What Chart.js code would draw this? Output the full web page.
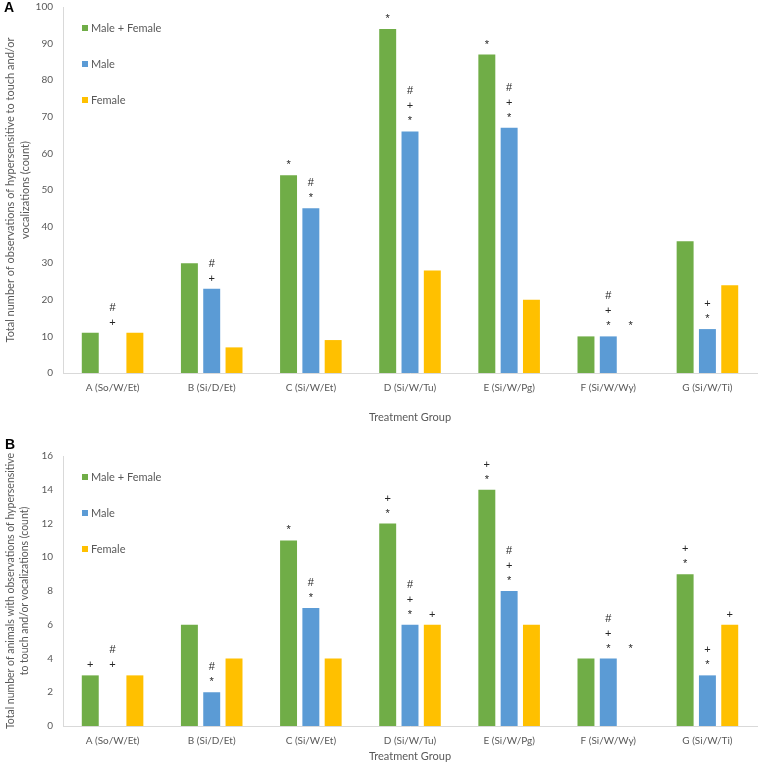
<!DOCTYPE html>
<html lang="en">
<head>
<meta charset="UTF-8">
<title>Hypersensitivity observations by treatment group</title>
<style>
  body { margin: 0; background: #fff; }
  #wrap { position: relative; width: 763px; height: 766px; }
  canvas { position: absolute; left: 0; }
  .tag { position: absolute; font: bold 14px "Liberation Sans", Arial, sans-serif; color: #000; }
</style>
</head>
<body>
<div id="wrap">
  <canvas id="chartA" style="top:0" width="763" height="427"></canvas>
  <canvas id="chartB" style="top:435px" width="763" height="331"></canvas>
  <div class="tag" style="left:4px;top:-1px">A</div>
  <div class="tag" style="left:5px;top:436px">B</div>
</div>
<script src="https://cdn.jsdelivr.net/npm/chart.js"></script>
<script>
// groups and series
const groups = ['A (So/W/Et)', 'B (Si/D/Et)', 'C (Si/W/Et)', 'D (Si/W/Tu)', 'E (Si/W/Pg)', 'F (Si/W/Wy)', 'G (Si/W/Ti)'];
const seriesNames = ['Male + Female', 'Male', 'Female'];
const seriesColors = ['#70AD47', '#5B9BD5', '#FFC000'];

// panel A: number of observations
const obsBoth   = [11, 30, 54, 94, 87, 10, 36];
const obsMale   = [0, 23, 45, 66, 67, 10, 12];
const obsFemale = [11, 7, 9, 28, 20, 0, 24];
const ticksA = [0, 10, 20, 30, 40, 50, 60, 70, 80, 90, 100];

// panel B: number of animals
const animBoth   = [3, 6, 11, 12, 14, 4, 9];
const animMale   = [0, 2, 7, 6, 8, 4, 3];
const animFemale = [3, 4, 4, 6, 6, 0, 6];
const ticksB = [0, 2, 4, 6, 8, 10, 12, 14, 16];

// significance marks: [group, series, symbols from bottom to top]
const marksA = [
  [0, 1, '+#'], [1, 1, '+#'],
  [2, 0, '*'], [2, 1, '*#'],
  [3, 0, '*'], [3, 1, '*+#'],
  [4, 0, '*'], [4, 1, '*+#'],
  [5, 1, '*+#'], [5, 2, '*'],
  [6, 1, '*+']
];
const marksB = [
  [0, 0, '+'], [0, 1, '+#'],
  [1, 1, '*#'],
  [2, 0, '*'], [2, 1, '*#'],
  [3, 0, '*+'], [3, 1, '*+#'], [3, 2, '+'],
  [4, 0, '*+'], [4, 1, '*+#'],
  [5, 1, '*+#'], [5, 2, '*'],
  [6, 0, '*+'], [6, 1, '*+'], [6, 2, '+']
];

const gray = '#595959';
const fontName = 'Lato, "Open Sans", sans-serif';

// legend inside the plot, top left
const insideLegend = {
  id: 'insideLegend',
  afterDraw(chart) {
    const ctx = chart.ctx, area = chart.chartArea;
    ctx.save();
    ctx.font = '11px ' + fontName;
    ctx.textBaseline = 'middle';
    chart.data.datasets.forEach((ds, i) => {
      const y = area.top + 21 + i * 36;
      ctx.fillStyle = ds.backgroundColor;
      ctx.fillRect(area.left + 19, y - 3, 6, 6);
      ctx.fillStyle = gray;
      ctx.fillText(ds.label, area.left + 28, y);
    });
    ctx.restore();
  }
};

// stacked significance symbols above bars
const sigMarks = {
  id: 'sigMarks',
  afterDatasetsDraw(chart, args, opts) {
    const ctx = chart.ctx;
    ctx.save();
    ctx.font = '11px "Liberation Sans", Arial, sans-serif';
    ctx.fillStyle = '#262626';
    ctx.textAlign = 'center';
    ctx.textBaseline = 'middle';
    opts.marks.forEach(([g, s, sym]) => {
      const bar = chart.getDatasetMeta(s).data[g];
      let top = bar.y;
      if (chart.data.datasets[s].data[g] === 0) {
        // empty bar: start above the tallest neighbour
        top = Math.min(...chart.data.datasets.map((d, k) => chart.getDatasetMeta(k).data[g].y));
      }
      [...sym].forEach((c, i) => {
        ctx.fillText(c, bar.x, top - 10 - i * 15);
      });
    });
    ctx.restore();
  }
};

function makeChart(id, values, ticks, yTitle, titleSize, padTop, xHeight, marks) {
  return new Chart(document.getElementById(id), {
    type: 'bar',
    data: {
      labels: groups,
      datasets: values.map((v, i) => ({
        label: seriesNames[i],
        data: v,
        backgroundColor: seriesColors[i],
        borderWidth: 0,
        categoryPercentage: 0.675,
        barPercentage: 0.76
      }))
    },
    options: {
      responsive: false,
      animation: false,
      devicePixelRatio: 1,
      layout: { padding: { top: padTop, right: 6, left: 0, bottom: 0 } },
      plugins: {
        legend: { display: false },
        tooltip: { enabled: false },
        sigMarks: { marks: marks }
      },
      scales: {
        x: {
          grid: { display: false, drawTicks: false },
          border: { color: '#D9D9D9' },
          ticks: { color: gray, font: { family: fontName, size: 10 }, padding: 9, maxRotation: 0, autoSkip: false },
          title: { display: true, text: 'Treatment Group', color: gray, font: { family: fontName, size: 11 }, padding: { top: 4, bottom: 3 } },
          afterFit(scale) { scale.height = xHeight; }
        },
        y: {
          min: ticks[0],
          max: ticks[ticks.length - 1],
          grid: { display: false, drawTicks: false },
          border: { color: '#D9D9D9' },
          ticks: { stepSize: ticks[1] - ticks[0], color: gray, font: { family: fontName, size: 10 }, padding: 10 },
          title: { display: true, text: yTitle, color: gray, font: { family: fontName, size: titleSize, lineHeight: 1.36 }, padding: { top: 3, bottom: 2 } },
          afterFit(scale) {
            scale.width = 63;
            scale.paddingTop = 0;
            scale.paddingBottom = 0;
          }
        }
      }
    },
    plugins: [insideLegend, sigMarks]
  });
}

makeChart('chartA', [obsBoth, obsMale, obsFemale], ticksA,
  ['Total number of observations of hypersensitive to touch and/or', 'vocalizations (count)'],
  11, 7, 54, marksA);

makeChart('chartB', [animBoth, animMale, animFemale], ticksB,
  ['Total number of animals with observations of hypersensitive', 'to touch and/or vocalizations (count)'],
  10.5, 21, 40, marksB);
</script>
</body>
</html>
